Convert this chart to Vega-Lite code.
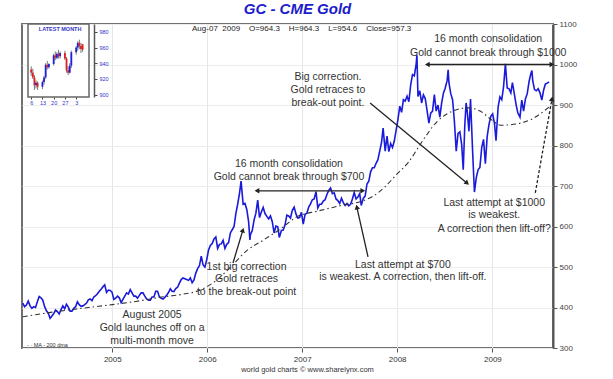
{
  "$schema": "https://vega.github.io/schema/vega-lite/v6.json",
  "width": 531,
  "height": 324,
  "autosize": "none",
  "padding": {"left": 22, "top": 24, "right": 60, "bottom": 31},
  "background": "white",
  "config": {
    "view": {"stroke": "#707070", "strokeWidth": 2},
    "font": "Liberation Sans"
  },
  "title": {
    "text": "GC - CME Gold",
    "color": "#1c1ccc",
    "fontSize": 15,
    "fontStyle": "italic",
    "fontWeight": "bold",
    "font": "Liberation Sans",
    "anchor": "middle",
    "dx": 10,
    "offset": 3
  },
  "datasets": {
    "price": [
      {"d":"2004-01-23","p":411},{"d":"2004-01-30","p":402},{"d":"2004-02-06","p":406},{"d":"2004-02-13","p":416},{"d":"2004-02-20","p":404},{"d":"2004-02-27","p":398},{"d":"2004-03-05","p":402},{"d":"2004-03-12","p":400},{"d":"2004-03-19","p":414},{"d":"2004-03-26","p":427},{"d":"2004-04-02","p":424},{"d":"2004-04-09","p":418},{"d":"2004-04-16","p":402},{"d":"2004-04-23","p":392},{"d":"2004-04-30","p":386},{"d":"2004-05-07","p":373},{"d":"2004-05-14","p":379},{"d":"2004-05-21","p":385},{"d":"2004-05-28","p":394},{"d":"2004-06-04","p":390},{"d":"2004-06-11","p":384},{"d":"2004-06-18","p":395},{"d":"2004-06-25","p":404},{"d":"2004-07-02","p":397},{"d":"2004-07-09","p":408},{"d":"2004-07-16","p":401},{"d":"2004-07-23","p":391},{"d":"2004-07-30","p":391},{"d":"2004-08-06","p":398},{"d":"2004-08-13","p":402},{"d":"2004-08-20","p":414},{"d":"2004-08-27","p":407},{"d":"2004-09-03","p":403},{"d":"2004-09-10","p":404},{"d":"2004-09-17","p":407},{"d":"2004-09-24","p":411},{"d":"2004-10-01","p":419},{"d":"2004-10-08","p":421},{"d":"2004-10-15","p":417},{"d":"2004-10-22","p":426},{"d":"2004-10-29","p":429},{"d":"2004-11-05","p":434},{"d":"2004-11-12","p":440},{"d":"2004-11-19","p":445},{"d":"2004-11-26","p":451},{"d":"2004-12-03","p":456},{"d":"2004-12-10","p":437},{"d":"2004-12-17","p":443},{"d":"2004-12-24","p":442},{"d":"2004-12-31","p":438},
      {"d":"2005-01-07","p":420},{"d":"2005-01-14","p":423},{"d":"2005-01-21","p":428},{"d":"2005-01-28","p":424},{"d":"2005-02-04","p":412},{"d":"2005-02-11","p":420},{"d":"2005-02-18","p":428},{"d":"2005-02-25","p":436},{"d":"2005-03-04","p":433},{"d":"2005-03-11","p":444},{"d":"2005-03-18","p":436},{"d":"2005-03-25","p":428},{"d":"2005-04-01","p":428},{"d":"2005-04-08","p":423},{"d":"2005-04-15","p":430},{"d":"2005-04-22","p":436},{"d":"2005-04-29","p":436},{"d":"2005-05-06","p":428},{"d":"2005-05-13","p":421},{"d":"2005-05-20","p":418},{"d":"2005-05-27","p":418},{"d":"2005-06-03","p":426},{"d":"2005-06-10","p":426},{"d":"2005-06-17","p":440},{"d":"2005-06-24","p":440},{"d":"2005-07-01","p":426},{"d":"2005-07-08","p":423},{"d":"2005-07-15","p":421},{"d":"2005-07-22","p":425},{"d":"2005-07-29","p":430},{"d":"2005-08-05","p":437},{"d":"2005-08-12","p":446},{"d":"2005-08-19","p":440},{"d":"2005-08-26","p":439},{"d":"2005-09-02","p":447},{"d":"2005-09-09","p":450},{"d":"2005-09-16","p":460},{"d":"2005-09-23","p":469},{"d":"2005-09-30","p":473},{"d":"2005-10-07","p":471},{"d":"2005-10-14","p":469},{"d":"2005-10-21","p":467},{"d":"2005-10-28","p":473},{"d":"2005-11-04","p":461},{"d":"2005-11-11","p":468},{"d":"2005-11-18","p":485},{"d":"2005-11-25","p":496},{"d":"2005-12-02","p":503},{"d":"2005-12-09","p":527},{"d":"2005-12-16","p":505},{"d":"2005-12-23","p":500},{"d":"2005-12-30","p":518},
      {"d":"2006-01-06","p":542},{"d":"2006-01-13","p":553},{"d":"2006-01-20","p":558},{"d":"2006-01-27","p":569},{"d":"2006-02-03","p":574},{"d":"2006-02-10","p":546},{"d":"2006-02-17","p":556},{"d":"2006-02-24","p":557},{"d":"2006-03-03","p":566},{"d":"2006-03-10","p":546},{"d":"2006-03-17","p":556},{"d":"2006-03-24","p":560},{"d":"2006-03-31","p":584},{"d":"2006-04-07","p":592},{"d":"2006-04-14","p":600},{"d":"2006-04-21","p":632},{"d":"2006-04-28","p":655},{"d":"2006-05-05","p":682},{"d":"2006-05-11","p":712},{"d":"2006-05-19","p":655},{"d":"2006-05-26","p":657},{"d":"2006-06-02","p":642},{"d":"2006-06-09","p":612},{"d":"2006-06-14","p":567},{"d":"2006-06-16","p":580},{"d":"2006-06-23","p":590},{"d":"2006-06-30","p":616},{"d":"2006-07-07","p":633},{"d":"2006-07-14","p":665},{"d":"2006-07-21","p":622},{"d":"2006-07-28","p":636},{"d":"2006-08-04","p":647},{"d":"2006-08-11","p":632},{"d":"2006-08-18","p":625},{"d":"2006-08-25","p":619},{"d":"2006-09-01","p":626},{"d":"2006-09-08","p":612},{"d":"2006-09-15","p":584},{"d":"2006-09-22","p":601},{"d":"2006-09-29","p":599},{"d":"2006-10-05","p":573},{"d":"2006-10-13","p":590},{"d":"2006-10-20","p":591},{"d":"2006-10-27","p":604},{"d":"2006-11-03","p":628},{"d":"2006-11-10","p":626},{"d":"2006-11-17","p":621},{"d":"2006-11-24","p":640},{"d":"2006-12-01","p":648},{"d":"2006-12-08","p":631},{"d":"2006-12-15","p":621},{"d":"2006-12-22","p":622},{"d":"2006-12-29","p":635},
      {"d":"2007-01-05","p":606},{"d":"2007-01-12","p":630},{"d":"2007-01-19","p":633},{"d":"2007-01-26","p":648},{"d":"2007-02-02","p":656},{"d":"2007-02-09","p":666},{"d":"2007-02-16","p":668},{"d":"2007-02-23","p":686},{"d":"2007-03-02","p":646},{"d":"2007-03-09","p":655},{"d":"2007-03-16","p":655},{"d":"2007-03-23","p":663},{"d":"2007-03-30","p":666},{"d":"2007-04-06","p":679},{"d":"2007-04-13","p":689},{"d":"2007-04-20","p":695},{"d":"2007-04-27","p":681},{"d":"2007-05-04","p":683},{"d":"2007-05-11","p":668},{"d":"2007-05-18","p":664},{"d":"2007-05-25","p":657},{"d":"2007-06-01","p":670},{"d":"2007-06-08","p":659},{"d":"2007-06-15","p":652},{"d":"2007-06-22","p":657},{"d":"2007-06-29","p":651},{"d":"2007-07-06","p":655},{"d":"2007-07-13","p":668},{"d":"2007-07-20","p":684},{"d":"2007-07-27","p":668},{"d":"2007-08-03","p":673},{"d":"2007-08-10","p":681},{"d":"2007-08-16","p":652},{"d":"2007-08-24","p":670},{"d":"2007-08-31","p":675},{"d":"2007-09-07","p":705},{"d":"2007-09-14","p":712},{"d":"2007-09-21","p":735},{"d":"2007-09-28","p":745},{"d":"2007-10-05","p":745},{"d":"2007-10-12","p":756},{"d":"2007-10-19","p":765},{"d":"2007-10-26","p":786},{"d":"2007-11-02","p":808},{"d":"2007-11-08","p":843},{"d":"2007-11-16","p":786},{"d":"2007-11-23","p":823},{"d":"2007-11-30","p":785},{"d":"2007-12-07","p":805},{"d":"2007-12-14","p":795},{"d":"2007-12-21","p":811},{"d":"2007-12-28","p":838},
      {"d":"2008-01-04","p":864},{"d":"2008-01-11","p":897},{"d":"2008-01-18","p":882},{"d":"2008-01-25","p":913},{"d":"2008-02-01","p":910},{"d":"2008-02-08","p":922},{"d":"2008-02-15","p":908},{"d":"2008-02-22","p":950},{"d":"2008-02-29","p":975},{"d":"2008-03-07","p":972},{"d":"2008-03-14","p":1001},{"d":"2008-03-17","p":1023},{"d":"2008-03-21","p":921},{"d":"2008-03-28","p":935},{"d":"2008-04-04","p":905},{"d":"2008-04-11","p":925},{"d":"2008-04-18","p":916},{"d":"2008-04-25","p":886},{"d":"2008-05-02","p":855},{"d":"2008-05-09","p":880},{"d":"2008-05-16","p":885},{"d":"2008-05-23","p":926},{"d":"2008-05-30","p":885},{"d":"2008-06-06","p":900},{"d":"2008-06-13","p":870},{"d":"2008-06-20","p":905},{"d":"2008-06-27","p":930},{"d":"2008-07-03","p":940},{"d":"2008-07-11","p":960},{"d":"2008-07-15","p":987},{"d":"2008-07-18","p":955},{"d":"2008-07-25","p":928},{"d":"2008-08-01","p":913},{"d":"2008-08-08","p":860},{"d":"2008-08-15","p":786},{"d":"2008-08-22","p":830},{"d":"2008-08-29","p":834},{"d":"2008-09-05","p":802},{"d":"2008-09-11","p":740},{"d":"2008-09-17","p":850},{"d":"2008-09-22","p":905},{"d":"2008-09-26","p":886},{"d":"2008-10-03","p":835},{"d":"2008-10-09","p":915},{"d":"2008-10-17","p":786},{"d":"2008-10-24","p":685},{"d":"2008-10-31","p":720},{"d":"2008-11-07","p":740},{"d":"2008-11-14","p":746},{"d":"2008-11-21","p":795},{"d":"2008-11-28","p":815},{"d":"2008-12-05","p":755},{"d":"2008-12-12","p":822},{"d":"2008-12-19","p":852},{"d":"2008-12-26","p":872},
      {"d":"2009-01-02","p":878},{"d":"2009-01-09","p":855},{"d":"2009-01-15","p":812},{"d":"2009-01-23","p":895},{"d":"2009-01-30","p":920},{"d":"2009-02-06","p":913},{"d":"2009-02-13","p":945},{"d":"2009-02-20","p":1002},{"d":"2009-02-27","p":942},{"d":"2009-03-06","p":940},{"d":"2009-03-13","p":930},{"d":"2009-03-19","p":955},{"d":"2009-03-27","p":925},{"d":"2009-04-03","p":898},{"d":"2009-04-09","p":880},{"d":"2009-04-17","p":870},{"d":"2009-04-24","p":912},{"d":"2009-05-01","p":885},{"d":"2009-05-08","p":915},{"d":"2009-05-15","p":928},{"d":"2009-05-22","p":958},{"d":"2009-05-29","p":978},{"d":"2009-06-02","p":985},{"d":"2009-06-05","p":960},{"d":"2009-06-12","p":938},{"d":"2009-06-19","p":935},{"d":"2009-06-26","p":940},{"d":"2009-07-03","p":930},{"d":"2009-07-10","p":912},{"d":"2009-07-17","p":937},{"d":"2009-07-24","p":952},{"d":"2009-07-31","p":954},{"d":"2009-08-07","p":957}
    ],
    "ma": [
      {"d":"2004-01-23","p":377},{"d":"2004-06-01","p":390},{"d":"2004-10-01","p":400},{"d":"2005-01-01","p":407},{"d":"2005-04-01","p":415},{"d":"2005-07-01","p":425},{"d":"2005-10-01","p":433},{"d":"2005-12-01","p":442},{"d":"2006-02-01","p":465},{"d":"2006-04-01","p":500},{"d":"2006-06-01","p":540},{"d":"2006-08-01","p":565},{"d":"2006-10-01","p":590},{"d":"2006-12-15","p":625},{"d":"2007-03-01","p":638},{"d":"2007-06-01","p":652},{"d":"2007-08-15","p":662},{"d":"2007-10-01","p":675},{"d":"2007-11-15","p":698},{"d":"2008-01-01","p":730},{"d":"2008-02-15","p":760},{"d":"2008-04-01","p":805},{"d":"2008-06-01","p":858},{"d":"2008-08-01","p":885},{"d":"2008-10-01","p":893},{"d":"2008-11-15","p":885},{"d":"2009-01-01","p":862},{"d":"2009-02-01","p":850},{"d":"2009-04-01","p":853},{"d":"2009-06-01","p":865},{"d":"2009-08-07","p":895}
    ],
    "arrows": [
      {"d":"2006-07-11","p":688,"d2":"2007-08-22","p2":688},
      {"d":"2008-04-26","p":1000,"d2":"2009-08-18","p2":1000},
      {"d":"2006-04-10","p":510,"d2":"2006-05-18","p2":591},
      {"d":"2007-09-11","p":525,"d2":"2007-07-30","p2":648},
      {"d":"2007-09-19","p":905,"d2":"2008-09-26","p2":707}
    ],
    "dashedArrows": [
      {"d":"2009-06-15","p":683,"d2":"2009-08-18","p2":915}
    ],
    "heads": [
      {"n":"left","d":"2006-07-11","p":688},
      {"n":"right","d":"2007-08-22","p":688},
      {"n":"left","d":"2008-04-26","p":1000},
      {"n":"right","d":"2009-08-18","p":1000},
      {"n":"first","d":"2006-05-18","p":591},
      {"n":"last700","d":"2007-07-30","p":648},
      {"n":"big","d":"2008-09-26","p":707},
      {"n":"last1000","d":"2009-08-18","p":915}
    ],
    "notes": [
      {"d":"2008-12-16","p":1063,"t":"16 month consolidation"},
      {"d":"2008-12-16","p":1028,"t":"Gold cannot break through $1000"},
      {"d":"2007-04-10","p":969,"t":"Big correction."},
      {"d":"2007-04-10","p":937,"t":"Gold retraces to"},
      {"d":"2007-04-10","p":905,"t":"break-out point."},
      {"d":"2006-11-11","p":754,"t":"16 month consolidation"},
      {"d":"2006-11-11","p":722,"t":"Gold cannot break through $700"},
      {"d":"2006-06-01","p":500,"t":"1st big correction"},
      {"d":"2006-06-01","p":470,"t":"Gold retraces"},
      {"d":"2006-06-01","p":438,"t":"to the break-out point"},
      {"d":"2008-01-23","p":505,"t":"Last attempt at $700"},
      {"d":"2008-01-23","p":475,"t":"is weakest. A correction, then lift-off."},
      {"d":"2009-01-08","p":658,"t":"Last attempt at $1000"},
      {"d":"2009-01-08","p":628,"t":"is weakest."},
      {"d":"2009-01-08","p":594,"t":"A correction then lift-off?"},
      {"d":"2005-06-03","p":381,"t":"August 2005"},
      {"d":"2005-06-03","p":349,"t":"Gold launches off on a"},
      {"d":"2005-06-03","p":317,"t":"multi-month move"}
    ],
    "header": [
      {"d":"2006-12-30","p":1087,"t":"Aug-07\u00a0 2009\u00a0\u00a0\u00a0 O=964.3\u00a0\u00a0\u00a0 H=964.3\u00a0\u00a0\u00a0 L=954.6\u00a0\u00a0\u00a0 Close=957.3"}
    ],
    "legend": [
      {"d":"2004-02-08","p":307,"t":"- ·  MA - 200 dma"}
    ],
    "frame": [
      {"a":"2009-07-04","b":"2009-08-11","lo":897,"hi":990}
    ],
    "candles": [
      {"id":"2009-07-06","op":932,"hi":936,"lo":924,"cl":928},
      {"id":"2009-07-07","op":928,"hi":933,"lo":920,"cl":922},
      {"id":"2009-07-08","op":922,"hi":925,"lo":906,"cl":912},
      {"id":"2009-07-09","op":912,"hi":918,"lo":908,"cl":915},
      {"id":"2009-07-10","op":915,"hi":917,"lo":906,"cl":910},
      {"id":"2009-07-13","op":910,"hi":918,"lo":907,"cl":916},
      {"id":"2009-07-14","op":916,"hi":924,"lo":913,"cl":922},
      {"id":"2009-07-15","op":922,"hi":940,"lo":920,"cl":938},
      {"id":"2009-07-16","op":938,"hi":943,"lo":932,"cl":935},
      {"id":"2009-07-17","op":935,"hi":940,"lo":933,"cl":939},
      {"id":"2009-07-20","op":939,"hi":952,"lo":937,"cl":950},
      {"id":"2009-07-21","op":950,"hi":955,"lo":944,"cl":947},
      {"id":"2009-07-22","op":947,"hi":954,"lo":945,"cl":952},
      {"id":"2009-07-23","op":952,"hi":957,"lo":946,"cl":949},
      {"id":"2009-07-24","op":949,"hi":955,"lo":946,"cl":953},
      {"id":"2009-07-27","op":953,"hi":956,"lo":944,"cl":946},
      {"id":"2009-07-28","op":946,"hi":948,"lo":928,"cl":931},
      {"id":"2009-07-29","op":931,"hi":936,"lo":925,"cl":928},
      {"id":"2009-07-30","op":928,"hi":940,"lo":927,"cl":937},
      {"id":"2009-07-31","op":937,"hi":956,"lo":934,"cl":954},
      {"id":"2009-08-03","op":954,"hi":962,"lo":951,"cl":960},
      {"id":"2009-08-04","op":960,"hi":968,"lo":956,"cl":966},
      {"id":"2009-08-05","op":966,"hi":970,"lo":958,"cl":962},
      {"id":"2009-08-06","op":962,"hi":966,"lo":953,"cl":958},
      {"id":"2009-08-07","op":964.3,"hi":964.3,"lo":954.6,"cl":957.3}
    ],
    "insetTitle": [
      {"id":"2009-07-24","hi":983,"t":"LATEST MONTH"}
    ]
  },
  "resolve": {"scale": {"x": "independent", "y": "independent"}, "axis": {"x": "independent", "y": "independent"}},
  "layer": [
    {
      "layer": [
        {
          "data": {"name": "price"},
          "mark": {"type": "line", "color": "#1a1adb", "strokeWidth": 1.6},
          "encoding": {
            "x": {
              "field": "d", "type": "temporal",
              "scale": {"domain": [{"year": 2004, "month": 1, "date": 20}, {"year": 2009, "month": 8, "date": 22}]},
              "axis": {
                "orient": "bottom",
                "format": "%Y",
                "tickCount": {"interval": "year", "step": 1},
                "labelFontSize": 8,
                "labelColor": "#333",
                "labelPadding": 3,
                "tickSize": 4,
                "tickColor": "#555",
                "domain": false,
                "grid": true,
                "gridColor": "#e6e6e6",
                "title": "world gold charts © www.sharelynx.com",
                "titleFontSize": 7.5,
                "titleFontWeight": "normal",
                "titleColor": "#333",
                "titlePadding": 2,
                "titleX": 285
              }
            },
            "y": {
              "field": "p", "type": "quantitative",
              "scale": {"domain": [300, 1100], "nice": false, "zero": false},
              "axis": {
                "orient": "right",
                "values": [300,350,400,450,500,550,600,650,700,750,800,850,900,950,1000,1050,1100],
                "format": "d",
                "labelFontSize": 8,
                "labelColor": "#444",
                "tickSize": 4,
                "tickColor": "#555",
                "labelPadding": 2,
                "domainColor": "#555",
                "domainWidth": 2,
                "grid": true,
                "gridColor": "#ececec",
                "title": null
              }
            }
          }
        },
        {
          "data": {"name": "ma"},
          "mark": {"type": "line", "color": "#333", "strokeWidth": 1.1, "strokeDash": [5, 3, 1.5, 3], "interpolate": "monotone"},
          "encoding": {
            "x": {"field": "d", "type": "temporal"},
            "y": {"field": "p", "type": "quantitative"}
          }
        },
        {
          "data": {"name": "arrows"},
          "mark": {"type": "rule", "color": "#222", "strokeWidth": 1.3},
          "encoding": {
            "x": {"field": "d", "type": "temporal"},
            "y": {"field": "p", "type": "quantitative"},
            "x2": {"field": "d2"},
            "y2": {"field": "p2"}
          }
        },
        {
          "data": {"name": "dashedArrows"},
          "mark": {"type": "rule", "color": "#222", "strokeWidth": 1.3, "strokeDash": [3, 2]},
          "encoding": {
            "x": {"field": "d", "type": "temporal"},
            "y": {"field": "p", "type": "quantitative"},
            "x2": {"field": "d2"},
            "y2": {"field": "p2"}
          }
        },
        {
          "data": {"name": "heads"},
          "transform": [{"filter": "datum.n == 'left'"}],
          "mark": {"type": "point", "shape": "triangle-up", "filled": true, "color": "#222", "size": 30, "angle": 270, "opacity": 1},
          "encoding": {"x": {"field": "d", "type": "temporal"}, "y": {"field": "p", "type": "quantitative"}}
        },
        {
          "data": {"name": "heads"},
          "transform": [{"filter": "datum.n == 'right'"}],
          "mark": {"type": "point", "shape": "triangle-up", "filled": true, "color": "#222", "size": 30, "angle": 90, "opacity": 1},
          "encoding": {"x": {"field": "d", "type": "temporal"}, "y": {"field": "p", "type": "quantitative"}}
        },
        {
          "data": {"name": "heads"},
          "transform": [{"filter": "datum.n == 'first'"}],
          "mark": {"type": "point", "shape": "triangle-up", "filled": true, "color": "#222", "size": 30, "angle": 17, "opacity": 1},
          "encoding": {"x": {"field": "d", "type": "temporal"}, "y": {"field": "p", "type": "quantitative"}}
        },
        {
          "data": {"name": "heads"},
          "transform": [{"filter": "datum.n == 'last700'"}],
          "mark": {"type": "point", "shape": "triangle-up", "filled": true, "color": "#222", "size": 30, "angle": 348, "opacity": 1},
          "encoding": {"x": {"field": "d", "type": "temporal"}, "y": {"field": "p", "type": "quantitative"}}
        },
        {
          "data": {"name": "heads"},
          "transform": [{"filter": "datum.n == 'big'"}],
          "mark": {"type": "point", "shape": "triangle-up", "filled": true, "color": "#222", "size": 30, "angle": 130, "opacity": 1},
          "encoding": {"x": {"field": "d", "type": "temporal"}, "y": {"field": "p", "type": "quantitative"}}
        },
        {
          "data": {"name": "heads"},
          "transform": [{"filter": "datum.n == 'last1000'"}],
          "mark": {"type": "point", "shape": "triangle-up", "filled": true, "color": "#222", "size": 30, "angle": 10, "opacity": 1},
          "encoding": {"x": {"field": "d", "type": "temporal"}, "y": {"field": "p", "type": "quantitative"}}
        },
        {
          "data": {"name": "notes"},
          "mark": {"type": "text", "fontSize": 10.5, "color": "#333", "align": "center", "baseline": "middle", "font": "Liberation Sans"},
          "encoding": {
            "x": {"field": "d", "type": "temporal"},
            "y": {"field": "p", "type": "quantitative"},
            "text": {"field": "t"}
          }
        },
        {
          "data": {"name": "header"},
          "mark": {"type": "text", "fontSize": 8, "color": "#222", "align": "center", "baseline": "middle", "font": "Liberation Sans"},
          "encoding": {
            "x": {"field": "d", "type": "temporal"},
            "y": {"field": "p", "type": "quantitative"},
            "text": {"field": "t"}
          }
        },
        {
          "data": {"name": "legend"},
          "mark": {"type": "text", "fontSize": 5.5, "color": "#333", "align": "left", "baseline": "middle", "font": "Liberation Sans"},
          "encoding": {
            "x": {"field": "d", "type": "temporal"},
            "y": {"field": "p", "type": "quantitative"},
            "text": {"field": "t"}
          }
        }
      ]
    },
    {
      "layer": [
        {
          "data": {"name": "frame"},
          "mark": {"type": "rect", "fill": "white", "stroke": "#666", "strokeWidth": 1.5},
          "encoding": {
            "x": {
              "field": "a", "type": "temporal",
              "scale": {"domain": [{"year": 2009, "month": 7, "date": 4}, {"year": 2009, "month": 8, "date": 11}], "range": [1, 72]},
              "axis": {
                "orient": "bottom",
                "offset": -251,
                "values": [{"year": 2009, "month": 7, "date": 6}, {"year": 2009, "month": 7, "date": 13}, {"year": 2009, "month": 7, "date": 20}, {"year": 2009, "month": 7, "date": 27}, {"year": 2009, "month": 8, "date": 3}],
                "format": "%-d",
                "labelFontSize": 5.5,
                "labelColor": "#3535c8",
                "labelPadding": 1,
                "tickSize": 2,
                "tickColor": "#444",
                "domain": false,
                "grid": false,
                "title": null,
                "zindex": 1
              }
            },
            "x2": {"field": "b"},
            "y": {
              "field": "lo", "type": "quantitative",
              "scale": {"domain": [897, 990], "range": [73, 0], "nice": false, "zero": false},
              "axis": {
                "orient": "right",
                "offset": -459,
                "values": [900, 920, 940, 960, 980],
                "labelFontSize": 5.5,
                "labelColor": "#3535c8",
                "labelPadding": 2,
                "tickSize": 3,
                "tickColor": "#444",
                "domainColor": "#555",
                "domainWidth": 1.5,
                "grid": false,
                "title": null,
                "zindex": 1
              }
            },
            "y2": {"field": "hi"}
          }
        },
        {
          "data": {"name": "candles"},
          "mark": {"type": "rule", "color": "#555", "strokeWidth": 0.8},
          "encoding": {
            "x": {"field": "id", "type": "temporal"},
            "y": {"field": "lo", "type": "quantitative"},
            "y2": {"field": "hi"}
          }
        },
        {
          "data": {"name": "candles"},
          "mark": {"type": "bar", "width": 1.8},
          "encoding": {
            "x": {"field": "id", "type": "temporal"},
            "y": {"field": "op", "type": "quantitative"},
            "y2": {"field": "cl"},
            "color": {"condition": {"test": "datum.cl >= datum.op", "value": "#1e1ee0"}, "value": "#e01e1e"}
          }
        },
        {
          "data": {"name": "insetTitle"},
          "mark": {"type": "text", "fontSize": 5.5, "color": "#3535c8", "align": "center", "baseline": "middle", "fontWeight": "bold"},
          "encoding": {
            "x": {"field": "id", "type": "temporal"},
            "y": {"field": "hi", "type": "quantitative"},
            "text": {"field": "t"}
          }
        }
      ]
    }
  ]
}
